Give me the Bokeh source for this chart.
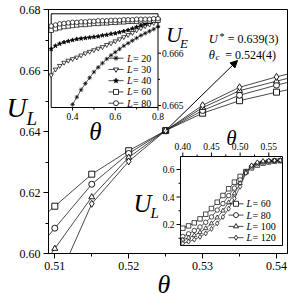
from bokeh.plotting import figure
from bokeh.models import Range1d, Label, Arrow, NormalHead, FixedTicker
from bokeh.core.properties import value
from bokeh.embed import file_html
from bokeh.resources import INLINE

SERIF = "Liberation Serif"

# ---------------- main plot data ----------------
theta_main = [0.505, 0.510, 0.515, 0.520, 0.525, 0.530, 0.535, 0.540, 0.545]
UL_60 = [0.6050, 0.6155, 0.6260, 0.6337, 0.6403, 0.6460, 0.6501, 0.6529, 0.6555]
UL_80 = [0.5940, 0.6083, 0.6227, 0.6328, 0.6403, 0.6469, 0.6519, 0.6552, 0.6582]
UL_100 = [0.5850, 0.6016, 0.6185, 0.6315, 0.6403, 0.6478, 0.6534, 0.6565, 0.6595]
UL_120 = [0.5600, 0.5890, 0.6163, 0.6302, 0.6403, 0.6486, 0.6545, 0.6579, 0.6610]
main_x_ticks = [0.51, 0.52, 0.53, 0.54]
main_x_labels = ["0.51", "0.52", "0.53", "0.54"]
main_x_minor = [0.515, 0.525, 0.535]
main_y_ticks = [0.60, 0.62, 0.64, 0.66, 0.68]
main_y_labels = ["0.60", "0.62", "0.64", "0.66", "0.68"]
main_y_minor = [0.61, 0.63, 0.65, 0.67]
crossing = (0.525, 0.6403)

# ---------------- inset 1 (U_E) data ----------------
theta_e20 = [0.40, 0.42, 0.44, 0.46, 0.48, 0.50, 0.52, 0.54, 0.56, 0.58, 0.60,
             0.62, 0.64, 0.66, 0.68, 0.70, 0.72, 0.74, 0.76, 0.78, 0.80]
UE_20 = [0.66502, 0.66516, 0.66530, 0.66542, 0.66553, 0.66564, 0.66573, 0.66581,
         0.66589, 0.66596, 0.66602, 0.66608, 0.66614, 0.66619, 0.66624, 0.66629,
         0.66634, 0.66638, 0.66642, 0.66646, 0.66651]
theta_e = [0.30, 0.32, 0.34, 0.36, 0.38, 0.40, 0.42, 0.44, 0.46, 0.48, 0.50, 0.52, 0.54,
           0.56, 0.58, 0.60, 0.62, 0.64, 0.66, 0.68, 0.70, 0.72, 0.74, 0.76, 0.78, 0.80]
UE_30 = [0.66558, 0.66569, 0.66576, 0.66582, 0.66586, 0.66589, 0.66592, 0.66596, 0.66600,
         0.66603, 0.66606, 0.66609, 0.66612, 0.66616, 0.66619, 0.66623, 0.66627, 0.66631,
         0.66635, 0.66639, 0.66644, 0.66648, 0.66652, 0.66655, 0.66658, 0.66662]
UE_40 = [0.66608, 0.66614, 0.66618, 0.66621, 0.66623, 0.66625, 0.66627, 0.66628, 0.66629,
         0.66630, 0.66631, 0.66632, 0.66634, 0.66635, 0.66637, 0.66638, 0.66640, 0.66642,
         0.66644, 0.66647, 0.66650, 0.66653, 0.66656, 0.66659, 0.66662, 0.66664]
UE_60 = [0.66644, 0.66647, 0.66649, 0.66651, 0.66652, 0.66653, 0.66654, 0.66655, 0.66655,
         0.66656, 0.66657, 0.66657, 0.66658, 0.66658, 0.66659, 0.66659, 0.66660, 0.66660,
         0.66661, 0.66661, 0.66661, 0.66662, 0.66662, 0.66662, 0.66663, 0.66663]
UE_80 = [0.66652, 0.66654, 0.66656, 0.66657, 0.66658, 0.66659, 0.66659, 0.66660, 0.66660,
         0.66661, 0.66661, 0.66662, 0.66662, 0.66662, 0.66663, 0.66663, 0.66663, 0.66664,
         0.66664, 0.66664, 0.66665, 0.66665, 0.66665, 0.66665, 0.66666, 0.66666]
i1_x_ticks = [0.4, 0.6, 0.8]
i1_x_labels = ["0.4", "0.6", "0.8"]
i1_x_minor = [0.5, 0.7]
i1_y_ticks = [0.665, 0.666]
i1_y_labels = ["0.665", "0.666"]
i1_y_minor = [0.6655, 0.6665]
i1_legend = ["20", "30", "40", "60", "80"]

# ---------------- inset 2 (U_L wide range) data ----------------
theta_w = [0.40, 0.41, 0.42, 0.43, 0.44, 0.45, 0.46, 0.47, 0.48,
           0.49, 0.50, 0.51, 0.52, 0.53, 0.54, 0.55, 0.56, 0.57]
UW_60 = [0.173, 0.190, 0.212, 0.241, 0.275, 0.316, 0.362, 0.411, 0.460,
         0.508, 0.550, 0.585, 0.612, 0.632, 0.646, 0.655, 0.661, 0.664]
UW_80 = [0.113, 0.132, 0.156, 0.182, 0.216, 0.255, 0.305, 0.352, 0.410,
         0.465, 0.525, 0.582, 0.620, 0.642, 0.654, 0.660, 0.664, 0.666]
UW_100 = [0.089, 0.103, 0.121, 0.143, 0.172, 0.207, 0.250, 0.300, 0.360,
          0.425, 0.500, 0.578, 0.626, 0.648, 0.658, 0.663, 0.665, 0.666]
UW_120 = [0.062, 0.075, 0.090, 0.110, 0.135, 0.168, 0.208, 0.255, 0.315,
          0.390, 0.475, 0.575, 0.630, 0.652, 0.661, 0.664, 0.666, 0.667]
i2_x_ticks = [0.40, 0.45, 0.50, 0.55]
i2_x_labels = ["0.40", "0.45", "0.50", "0.55"]
i2_x_minor = [0.425, 0.475, 0.525]
i2_y_ticks = [0.2, 0.4, 0.6]
i2_y_labels = ["0.2", "0.4", "0.6"]
i2_y_minor = [0.1, 0.3, 0.5]
i2_legend = ["60", "80", "100", "120"]

# ---------------- geometry (canvas pixels) ----------------
FL, FT, FR, FB = 48, 9, 287, 253   # main frame
W = H = 294


def lin(d0, p0, d1, p1):
    s = (d1 - d0) / (p1 - p0)
    return lambda pg: d0 + (pg - p0) * s


mx = lin(0.51, 54.3, 0.54, 276.0)
my = lin(0.60, 253.0, 0.68, 9.0)
i1x = lin(0.3, 50.7, 0.8, 157.5)
i1y = lin(0.665, 105.0, 0.666, 52.7)
i2x = lin(0.40, 182.3, 0.55, 268.3)
i2y = lin(0.2, 224.0, 0.6, 169.0)
I1 = (50.7, 13.3, 157.5, 107.0)   # inset boxes: left, top, right, bottom
I2 = (180.0, 156.0, 282.0, 245.0)

p = figure(width=W, height=H, output_backend="svg", toolbar_location=None,
           x_range=Range1d(mx(FL), mx(FR)), y_range=Range1d(my(FB), my(FT)),
           min_border_left=FL, min_border_right=W - FR,
           min_border_top=FT, min_border_bottom=H - FB)
p.extra_x_ranges = {"i1x": Range1d(i1x(FL), i1x(FR)), "i2x": Range1d(i2x(FL), i2x(FR))}
p.extra_y_ranges = {"i1y": Range1d(i1y(FB), i1y(FT)), "i2y": Range1d(i2y(FB), i2y(FT))}
p.xgrid.visible = False
p.ygrid.visible = False
p.outline_line_color = "black"
p.outline_line_width = 1
p.background_fill_color = "white"
p.border_fill_color = "white"

for ax, ticks, minor, labels in ((p.xaxis[0], main_x_ticks, main_x_minor, main_x_labels),
                                  (p.yaxis[0], main_y_ticks, main_y_minor, main_y_labels)):
    ax.ticker = FixedTicker(ticks=ticks, minor_ticks=minor)
    ax.major_label_overrides = {t: l for t, l in zip(ticks, labels)}
    ax.axis_line_color = "black"
    ax.major_tick_line_color = "black"
    ax.minor_tick_line_color = "black"
    ax.major_tick_out = 5
    ax.major_tick_in = 0
    ax.minor_tick_out = 3
    ax.minor_tick_in = 0
    ax.major_label_text_font = SERIF
    ax.major_label_text_font_size = "12px"
    ax.major_label_text_color = "black"
    ax.major_label_standoff = 3

LC = "#1a1a1a"

# main series
main_series = [(UL_60, "square"), (UL_80, "circle"), (UL_100, "triangle"), (UL_120, "diamond")]
for ys, mk in main_series:
    p.line(theta_main, ys, line_color=LC, line_width=0.8)
for ys, mk in main_series:
    sz = 7 if mk == "diamond" else 6
    p.scatter(theta_main, ys, marker=mk, size=sz, line_color="black", line_width=0.9,
              fill_color="white")


def box(xm, ym, b, xr, yr):
    l, t, r, bt = b
    p.quad(left=[xm(l)], right=[xm(r)], top=[ym(t)], bottom=[ym(bt)],
           fill_color="white", line_color="black", line_width=1,
           x_range_name=xr, y_range_name=yr)


def ticks_h(xm, ym, xr, yr, ticks, edge_pg, length, up):
    y0 = ym(edge_pg)
    y1 = ym(edge_pg - length if up else edge_pg + length)
    p.segment(x0=ticks, x1=ticks, y0=[y0] * len(ticks), y1=[y1] * len(ticks),
              line_color="black", line_width=1, x_range_name=xr, y_range_name=yr)


def ticks_v(xm, ym, xr, yr, ticks, edge_pg, length, right):
    x0 = xm(edge_pg)
    x1 = xm(edge_pg + length if right else edge_pg - length)
    p.segment(x0=[x0] * len(ticks), x1=[x1] * len(ticks), y0=ticks, y1=ticks,
              line_color="black", line_width=1, x_range_name=xr, y_range_name=yr)


# ---------------- inset 1 ----------------
box(i1x, i1y, I1, "i1x", "i1y")
ticks_h(i1x, i1y, "i1x", "i1y", i1_x_ticks, I1[3], 3, False)
ticks_h(i1x, i1y, "i1x", "i1y", i1_x_minor, I1[3], 2, False)
ticks_v(i1x, i1y, "i1x", "i1y", i1_y_ticks, I1[2], 3, True)
ticks_v(i1x, i1y, "i1x", "i1y", i1_y_minor, I1[2], 2, True)
p.text(x=i1_x_ticks, y=[i1y(I1[3])] * 3, text=i1_x_labels, y_offset=5,
       text_font=value(SERIF), text_font_size="9.5px", text_align="center",
       text_baseline="top", x_range_name="i1x", y_range_name="i1y")
p.text(x=[i1x(I1[2])] * 2, y=i1_y_ticks, text=i1_y_labels, x_offset=4,
       text_font=value(SERIF), text_font_size="9.5px", text_align="left",
       text_baseline="middle", x_range_name="i1x", y_range_name="i1y")

i1_series = [(theta_e20, UE_20, "asterisk", "black"), (theta_e, UE_30, "inverted_triangle", "white"),
             (theta_e, UE_40, "star", "black"), (theta_e, UE_60, "square", "white"),
             (theta_e, UE_80, "circle", "white")]
for xs, ys, mk, fc in i1_series:
    p.line(xs, ys, line_color=LC, line_width=0.7, x_range_name="i1x", y_range_name="i1y")
for xs, ys, mk, fc in i1_series:
    p.scatter(xs, ys, marker=mk, size=4.5, line_color="black", line_width=0.7,
              fill_color=fc, x_range_name="i1x", y_range_name="i1y")

leg1_rows = [57.7 + 11.25 * k for k in range(5)]
for (xs, ys, mk, fc), lab, ry in zip(i1_series, i1_legend, leg1_rows):
    p.line([i1x(108), i1x(123)], [i1y(ry), i1y(ry)], line_color=LC, line_width=0.8,
           x_range_name="i1x", y_range_name="i1y")
    p.scatter([i1x(115.5)], [i1y(ry)], marker=mk, size=5, line_color="black", line_width=0.8,
              fill_color=fc, x_range_name="i1x", y_range_name="i1y")
    p.text(x=[i1x(126.5)], y=[i1y(ry)], text=["L"], text_font=value(SERIF),
           text_font_style="italic", text_font_size="10px", text_baseline="middle",
           x_range_name="i1x", y_range_name="i1y")
    p.text(x=[i1x(126.5)], y=[i1y(ry)], text=[" = " + lab], x_offset=6,
           text_font=value(SERIF), text_font_size="10px", text_baseline="middle",
           x_range_name="i1x", y_range_name="i1y")

# ---------------- inset 2 ----------------
box(i2x, i2y, I2, "i2x", "i2y")
ticks_h(i2x, i2y, "i2x", "i2y", i2_x_ticks, I2[1], 4, True)
ticks_h(i2x, i2y, "i2x", "i2y", i2_x_minor, I2[1], 2, True)
ticks_v(i2x, i2y, "i2x", "i2y", i2_y_ticks, I2[0], 4, False)
ticks_v(i2x, i2y, "i2x", "i2y", i2_y_minor, I2[0], 2, False)
p.text(x=i2_x_ticks, y=[i2y(I2[1])] * 4, text=i2_x_labels, y_offset=-7,
       text_font=value(SERIF), text_font_size="9.5px", text_align="center",
       text_baseline="bottom", x_range_name="i2x", y_range_name="i2y")
p.text(x=[i2x(I2[0])] * 3, y=i2_y_ticks, text=i2_y_labels, x_offset=-6,
       text_font=value(SERIF), text_font_size="9.5px", text_align="right",
       text_baseline="middle", x_range_name="i2x", y_range_name="i2y")

i2_series = [(UW_60, "square"), (UW_80, "circle"), (UW_100, "triangle"), (UW_120, "diamond")]
for ys, mk in i2_series:
    p.line(theta_w, ys, line_color=LC, line_width=0.7, x_range_name="i2x", y_range_name="i2y")
for ys, mk in i2_series:
    p.scatter(theta_w, ys, marker=mk, size=5 if mk == "diamond" else 4.5, line_color="black",
              line_width=0.7, fill_color="white", x_range_name="i2x", y_range_name="i2y")

leg2_rows = [203.3 + 11.3 * k for k in range(4)]
for (ys, mk), lab, ry in zip(i2_series, i2_legend, leg2_rows):
    p.line([i2x(228), i2x(243)], [i2y(ry), i2y(ry)], line_color=LC, line_width=0.8,
           x_range_name="i2x", y_range_name="i2y")
    p.scatter([i2x(235.5)], [i2y(ry)], marker=mk, size=5, line_color="black", line_width=0.8,
              fill_color="white", x_range_name="i2x", y_range_name="i2y")
    p.text(x=[i2x(246)], y=[i2y(ry)], text=["L"], text_font=value(SERIF),
           text_font_style="italic", text_font_size="10px", text_baseline="middle",
           x_range_name="i2x", y_range_name="i2y")
    p.text(x=[i2x(246)], y=[i2y(ry)], text=[" = " + lab], x_offset=6,
           text_font=value(SERIF), text_font_size="10px", text_baseline="middle",
           x_range_name="i2x", y_range_name="i2y")


# ---------------- texts ----------------
def lab(text, xpg, ypg, size, italic=True, align="left"):
    p.add_layout(Label(x=mx(xpg), y=my(ypg), text=text, text_font=SERIF,
                       text_font_style="italic" if italic else "normal",
                       text_font_size=size, text_color="black", text_align=align,
                       text_baseline="alphabetic"))


def outer(text, xpg, ypg, size, align="left"):
    # axis titles sit outside the frame: drawn on the overlay level
    p.text(x=[mx(xpg)], y=[my(ypg)], text=[text], text_font=value(SERIF),
           text_font_style="italic", text_font_size=size, text_color="black",
           text_align=align, text_baseline="alphabetic", level="overlay")


outer("U", 6, 107, "28px")
outer("L", 26, 118, "19px")
outer("\u03b8", 163.5, 284, "26px", align="center")

lab("U", 133, 203, "25px")
lab("L", 150, 212, "15px")
lab("\u03b8", 231, 137, "21px", align="center")
lab("U", 165.5, 34, "22px")
lab("E", 179.5, 42.5, "13px")
lab("\u03b8", 95, 131, "25px", align="center")
lab("U", 208.3, 38.3, "12.5px")
lab("*", 219, 35.5, "10px", italic=False)
lab("= 0.639(3)", 227.3, 38.5, "12px", italic=False)
lab("\u03b8", 208.3, 54, "12.5px")
lab("c", 215, 56.5, "9px")
lab("= 0.524(4)", 224.8, 54.5, "12px", italic=False)

p.add_layout(Arrow(end=NormalHead(size=7, fill_color="black", line_color="black"),
                   x_start=crossing[0], y_start=crossing[1],
                   x_end=mx(237), y_end=my(60), line_color="black", line_width=1))

open("out.html", "w").write(file_html(p, INLINE))
